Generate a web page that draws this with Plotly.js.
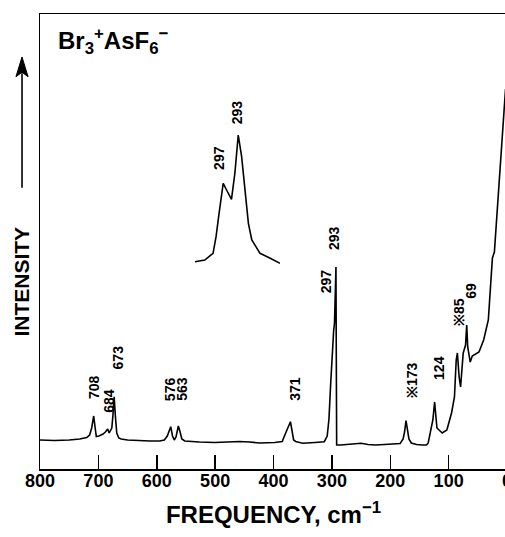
<!DOCTYPE html>
<html>
<head>
<meta charset="utf-8">
<script src="https://cdn.plot.ly/plotly-3.0.1.min.js"></script>
<style>
html, body { margin: 0; padding: 0; overflow: hidden; background: #fff; }
#chart { width: 515px; height: 537px; }
</style>
</head>
<body>
<div id="chart"></div>
<script>
// Raman spectrum of Br3+ AsF6- : frequency (cm-1) against relative intensity
const frequency = [800, 775, 750, 732, 720, 715, 711.5, 708, 705.5, 703.5, 699, 692, 688, 684, 681.5, 677, 675, 673, 671, 668.5,
  665, 661, 650, 633, 612, 595, 587, 582, 576, 573, 570, 567, 563, 560, 557, 552, 544, 527, 501, 476,
  458, 441, 424, 398, 385, 382, 377.5, 371, 368.5, 365.5, 362, 350, 329, 313, 308, 305, 302, 299.5, 297, 295.5,
  294, 293, 292.4, 291.8, 285, 275, 265, 250, 238, 225, 210, 195, 183, 178, 175.5, 173, 170.5, 168, 164, 155,
  145, 138, 135, 133, 127, 124, 122.5, 120, 111, 103, 95, 90, 87, 85, 82, 79.5, 75, 71, 69, 67.3,
  63, 59.5, 48, 40, 32, 25, 21.6, 17.7, 6.2, 2.5];
const intensity = [29, 28.5, 29, 30, 31.5, 34, 41, 53, 41, 32.5, 33, 35, 37, 40, 36, 41, 54, 72.3, 54, 36,
  31, 30, 29, 28.3, 28, 28, 29, 33, 42.3, 33, 29, 32, 43, 37, 30, 28, 27.5, 27, 26.5, 27,
  27.5, 27, 26, 26.5, 27.5, 32, 39, 47.3, 39, 29, 27.5, 25.7, 26.5, 27.3, 33, 50, 86, 115, 138, 146,
  172, 202, 110, 24, 24, 24.5, 25.5, 25.7, 24.5, 24, 24.5, 25, 25.5, 30, 37, 48.3, 37, 30, 26, 24.5,
  24, 24, 26, 32, 49, 67, 59, 41, 36, 39, 56, 72, 109, 116, 92, 82, 116, 124, 144, 122,
  107, 113, 117, 129, 149, 211, 217, 249, 350, 380];

// expanded scan of the 297 / 293 doublet
const insetFrequency = [304.5, 301.9, 299.7, 298.9, 298.1, 297.4, 297, 296.1, 294.8, 293.9, 293, 292.1, 291.2, 290.3,
  289.4, 287.2, 284.5, 282.7, 281.9];
const insetIntensity = [207.3, 209, 215.7, 232.3, 255.7, 279, 285.7, 279, 269.7, 295.7, 334, 312.3, 279, 245.7,
  229, 215.7, 210.7, 207.3, 205.7];

// band assignments written beside the peaks
const peakLabels = ['708', '684', '673', '576', '563', '371', '297', '293', '※173', '124', '※85', '69'];
const peakFrequency = [708, 684, 673, 576, 563, 371, 297, 293, 173, 124, 85, 69];
const insetLabels = ['297', '293'];
const insetPeakFrequency = [297, 293];

const tickValues = [800, 700, 600, 500, 400, 300, 200, 100, 0];
const tickLabels = ['800', '700', '600', '500', '400', '300', '200', '100', '0'];

// label placement: [horizontal shift in px, height in intensity units]
const labelPlacement = [[0.3, 82], [1, 68], [4.3, 112], [-0.6, 80], [3.5, 80], [4.3, 80],
  [-7.3, 188], [-2, 231], [6, 89], [4.3, 101], [1.7, 157], [4, 178]];
const insetPlacement = [[-4.3, 311], [-1, 357]];

const bold = { family: 'Liberation Sans, Arial, sans-serif', color: '#000', weight: 700 };
const lineStyle = { color: '#000', width: 1.6 };

const traces = [
  { x: frequency, y: intensity, type: 'scatter', mode: 'lines', line: lineStyle,
    xaxis: 'x', yaxis: 'y', hoverinfo: 'x+y' },
  { x: insetFrequency, y: insetIntensity, type: 'scatter', mode: 'lines', line: lineStyle,
    xaxis: 'x2', yaxis: 'y', hoverinfo: 'x+y' }
];

const annotations = [];
peakLabels.forEach((txt, i) => {
  annotations.push({
    x: peakFrequency[i], y: labelPlacement[i][1], xref: 'x', yref: 'y',
    xshift: labelPlacement[i][0], text: txt, textangle: -90, showarrow: false,
    xanchor: 'center', yanchor: 'middle', font: Object.assign({ size: 14 }, bold)
  });
});
insetLabels.forEach((txt, i) => {
  annotations.push({
    x: insetPeakFrequency[i], y: insetPlacement[i][1], xref: 'x2', yref: 'y',
    xshift: insetPlacement[i][0], text: txt, textangle: -90, showarrow: false,
    xanchor: 'center', yanchor: 'middle', font: Object.assign({ size: 14 }, bold)
  });
});

// compound name in the upper left corner
annotations.push({
  xref: 'paper', yref: 'paper', x: 0.034, y: 0.9407, xanchor: 'left', yanchor: 'middle',
  text: 'Br<sub>3</sub><sup>+</sup>AsF<sub>6</sub><sup>−</sup>', showarrow: false,
  font: Object.assign({ size: 24 }, bold)
});
// vertical intensity label
annotations.push({
  xref: 'paper', yref: 'paper', x: -0.0385, y: 0.412, xanchor: 'center', yanchor: 'middle',
  text: 'INTENSITY', textangle: -90, showarrow: false, font: Object.assign({ size: 21 }, bold)
});

// upward arrow beside the intensity label (shaft and head)
const shapes = [
  { type: 'line', xref: 'paper', yref: 'paper', x0: -0.0385, x1: -0.0385, y0: 0.618, y1: 0.87,
    line: { color: '#000', width: 1.6 } },
  { type: 'path', xref: 'paper', yref: 'paper',
    path: 'M -0.0385 0.9055 L -0.0515 0.862 L -0.0385 0.872 L -0.0255 0.862 Z',
    fillcolor: '#000', line: { color: '#000', width: 1 } }
];

const layout = {
  width: 515, height: 537,
  margin: { l: 40, r: 8, t: 14, b: 68 },
  paper_bgcolor: '#fff', plot_bgcolor: 'rgba(0,0,0,0)',
  showlegend: false,
  xaxis: {
    range: [800, 0], tickvals: tickValues, ticktext: tickLabels,
    ticks: 'inside', ticklen: 14, tickwidth: 1.5, tickcolor: '#000',
    showline: true, linewidth: 1.5, linecolor: '#000', mirror: true,
    showgrid: false, zeroline: false, ticklabelstandoff: -5,
    tickfont: Object.assign({ size: 18 }, bold),
    title: { text: 'FREQUENCY, cm<sup>−1</sup>', font: Object.assign({ size: 24 }, bold), standoff: 16 }
  },
  xaxis2: {
    domain: [0.3319, 0.5139], range: [304.5, 281.9], anchor: 'y',
    visible: false, showgrid: false, zeroline: false
  },
  yaxis: {
    range: [0, 455], showline: true, linewidth: 1.5, linecolor: '#000',
    ticks: '', showticklabels: false, showgrid: false, zeroline: false
  },
  shapes: shapes,
  annotations: annotations
};

Plotly.newPlot('chart', traces, layout, { displayModeBar: false, staticPlot: true });
</script>
</body>
</html>
